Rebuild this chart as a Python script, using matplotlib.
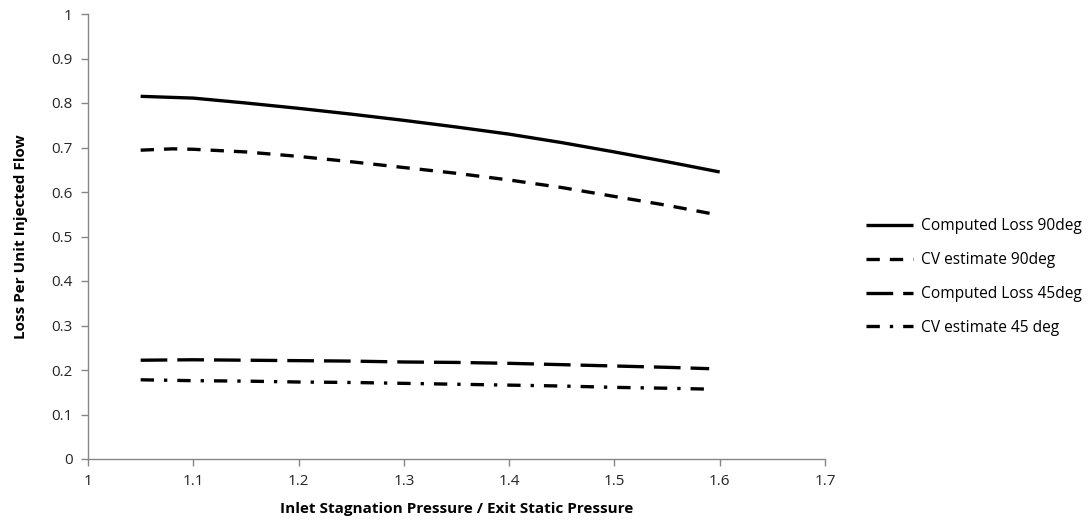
import matplotlib
matplotlib.use("Agg")
import matplotlib.pyplot as plt

x = [1.05, 1.10, 1.15, 1.20, 1.25, 1.30, 1.35, 1.40, 1.45, 1.50, 1.55, 1.60]
comp90 = [0.815, 0.811, 0.800, 0.788, 0.775, 0.761, 0.746, 0.730, 0.711, 0.690, 0.668, 0.645]
x_b = [1.05, 1.08, 1.10, 1.15, 1.20, 1.25, 1.30, 1.35, 1.40, 1.45, 1.50, 1.55, 1.595]
cv90 = [0.694, 0.697, 0.696, 0.690, 0.680, 0.668, 0.655, 0.642, 0.627, 0.610, 0.590, 0.570, 0.550]
x_c = [1.05, 1.10, 1.15, 1.20, 1.25, 1.30, 1.35, 1.40, 1.45, 1.50, 1.55, 1.59]
comp45 = [0.222, 0.223, 0.222, 0.221, 0.220, 0.218, 0.217, 0.215, 0.212, 0.209, 0.206, 0.203]
cv45 = [0.178, 0.176, 0.175, 0.173, 0.172, 0.170, 0.168, 0.166, 0.164, 0.161, 0.159, 0.157]

labels = ["Computed Loss 90deg", "CV estimate 90deg", "Computed Loss 45deg", "CV estimate 45 deg"]
xticks = [1, 1.1, 1.2, 1.3, 1.4, 1.5, 1.6, 1.7]
yticks = [0, 0.1, 0.2, 0.3, 0.4, 0.5, 0.6, 0.7, 0.8, 0.9, 1]

plt.rcParams['font.family'] = ['Open Sans', 'DejaVu Sans']

fig = plt.figure(figsize=(10.91, 5.24), dpi=100)
ax = fig.add_axes([88/1091, 1-459/524, (825-88)/1091, (459-14)/524])

lw = 2.4
ax.plot(x, comp90, color='black', lw=lw, solid_capstyle='butt', label=labels[0])
ax.plot(x_b, cv90, color='black', lw=lw, dashes=(4, 3), dash_capstyle='butt', label=labels[1])
ax.plot(x_c, comp45, color='black', lw=lw, dashes=(8, 3), dash_capstyle='butt', label=labels[2])
ax.plot(x_c, cv45, color='black', lw=lw, dashes=(4, 3, 1, 3), dash_capstyle='butt', label=labels[3])

ax.set_xlim(1, 1.7)
ax.set_ylim(0, 1)
ax.set_xticks(xticks)
ax.set_xticklabels([f"{v:g}" for v in xticks])
ax.set_yticks(yticks)
ax.set_yticklabels([f"{v:g}" for v in yticks])

gray = '#868686'
for s in ['top', 'right']:
    ax.spines[s].set_visible(False)
for s in ['left', 'bottom']:
    ax.spines[s].set_color(gray)
    ax.spines[s].set_linewidth(1.0)
ax.tick_params(axis='both', direction='out', length=5, width=1, color=gray,
               labelsize=11, labelcolor='#262626', pad=6)

ax.set_xlabel("Inlet Stagnation Pressure / Exit Static Pressure", fontsize=11,
              fontweight='bold', labelpad=9)
ax.set_ylabel("Loss Per Unit Injected Flow", fontsize=11, fontweight='bold', labelpad=17)

leg = fig.legend(loc='upper left', bbox_to_anchor=(860/1091, 1-212/524), frameon=False,
                 fontsize=11.2, handlelength=3.0, handletextpad=0.5, labelspacing=1.15,
                 borderaxespad=0)

fig.savefig("out.png", dpi=100, facecolor='white')
